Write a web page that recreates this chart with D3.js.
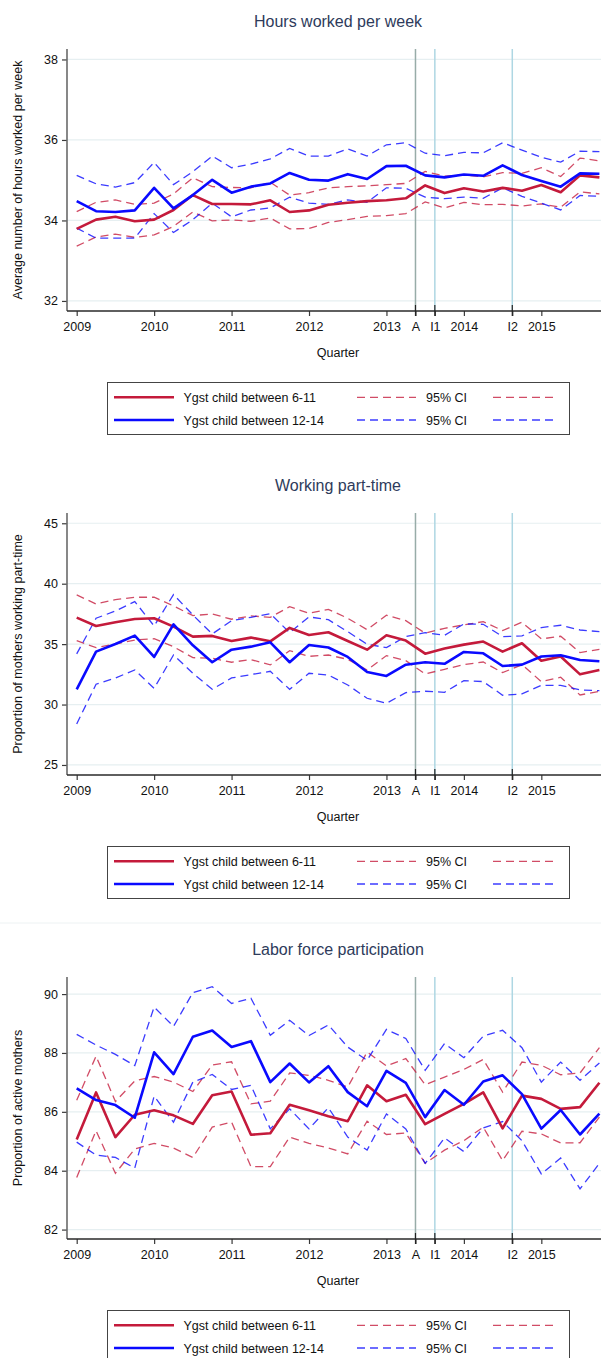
<!DOCTYPE html>
<html>
<head>
<meta charset="utf-8">
<script src="https://cdn.jsdelivr.net/npm/d3@7"></script>
<style>
  html, body { margin: 0; padding: 0; background: #fff; }
  svg { display: block; }
  text { font-family: "Liberation Sans", Arial, Helvetica, sans-serif; }
</style>
</head>
<body>
<svg id="chart" width="601" height="1358"></svg>
<script>
// Quarters 2009q1 .. 2015q4 (index 0..27)
const quarters = d3.range(28).map(i => `${2009 + Math.floor(i / 4)}q${(i % 4) + 1}`);

// x-axis ticks (positions in quarter index units)
const xTickLabels = ["2009", "2010", "2011", "2012", "2013", "A", "I1", "2014", "I2", "2015"];
const xTickPos    = [0, 4, 8, 12, 16, 17.5, 18.5, 20, 22.5, 24];

// Reference lines: announcement and the two implementation dates
const eventLabels = ["A", "I1", "I2"];
const eventPos    = [17.5, 18.5, 22.5];

// ---- Hours worked per week ----
const hoursY611   = [33.79,34.02,34.09,33.98,34.02,34.26,34.63,34.41,34.41,34.40,34.50,34.21,34.25,34.39,34.44,34.48,34.50,34.55,34.87,34.68,34.80,34.72,34.81,34.74,34.88,34.70,35.12,35.07];
const hoursY611Lo = [33.36,33.59,33.66,33.58,33.64,33.85,34.21,33.99,34.01,33.98,34.06,33.79,33.80,33.95,34.02,34.10,34.12,34.17,34.46,34.31,34.45,34.39,34.40,34.36,34.41,34.33,34.71,34.66];
const hoursY611Hi = [34.22,34.45,34.51,34.40,34.43,34.66,35.06,34.84,34.82,34.81,34.95,34.63,34.69,34.81,34.84,34.86,34.89,34.92,35.22,35.10,35.13,35.08,35.19,35.17,35.31,35.09,35.55,35.48];
const hoursY1214   = [34.48,34.23,34.21,34.25,34.81,34.30,34.63,35.01,34.69,34.84,34.92,35.18,35.01,34.99,35.15,35.03,35.35,35.36,35.12,35.07,35.14,35.11,35.37,35.13,34.98,34.84,35.17,35.16];
const hoursY1214Lo = [33.81,33.56,33.56,33.56,34.17,33.70,34.02,34.43,34.09,34.26,34.31,34.58,34.43,34.40,34.51,34.45,34.81,34.80,34.58,34.54,34.58,34.55,34.81,34.60,34.43,34.26,34.62,34.60];
const hoursY1214Hi = [35.12,34.91,34.83,34.94,35.44,34.89,35.21,35.60,35.31,35.40,35.53,35.79,35.60,35.60,35.78,35.60,35.88,35.93,35.67,35.61,35.69,35.68,35.93,35.75,35.57,35.45,35.72,35.71];
const hoursTicks = [32, 34, 36, 38];
const hoursRange = [31.75, 38.26];

// ---- Working part-time ----
const ptY611   = [37.19,36.50,36.81,37.08,37.14,36.45,35.62,35.68,35.26,35.54,35.23,36.34,35.76,35.98,35.26,34.54,35.73,35.29,34.21,34.63,34.96,35.21,34.38,35.07,33.63,33.97,32.50,32.86];
const ptY611Lo = [35.29,34.71,35.01,35.34,35.45,34.79,33.88,33.83,33.50,33.72,33.28,34.46,33.99,34.10,33.74,32.86,34.05,33.63,32.53,32.92,33.30,33.52,32.64,33.30,31.90,32.26,30.79,31.10];
const ptY611Hi = [39.07,38.32,38.68,38.88,38.88,38.16,37.36,37.50,37.06,37.33,37.22,38.10,37.55,37.88,37.14,36.20,37.39,36.94,35.90,36.31,36.59,36.86,36.12,36.81,35.43,35.65,34.30,34.57];
const ptY1214   = [31.26,34.38,35.01,35.70,33.94,36.64,34.90,33.50,34.54,34.79,35.15,33.50,34.93,34.72,33.94,32.70,32.37,33.30,33.50,33.37,34.35,34.24,33.19,33.30,33.97,34.08,33.69,33.58];
const ptY1214Lo = [28.39,31.68,32.20,32.86,31.34,34.10,32.59,31.26,32.20,32.48,32.75,31.26,32.59,32.44,31.62,30.52,30.10,30.99,31.10,31.01,31.98,31.90,30.77,30.88,31.59,31.59,31.21,31.15];
const ptY1214Hi = [34.19,37.14,37.74,38.52,36.50,39.10,37.41,35.84,36.94,37.22,37.52,35.95,37.25,37.02,36.03,34.99,34.71,35.62,35.95,35.73,36.67,36.64,35.62,35.68,36.37,36.56,36.17,36.03];
const ptTicks = [25, 30, 35, 40, 45];
const ptRange = [24.17, 45.85];

// ---- Labor force participation ----
const lfpY611   = [85.06,86.66,85.14,85.90,86.05,85.88,85.59,86.56,86.69,85.22,85.27,86.24,86.05,85.85,85.68,86.90,86.36,86.58,85.58,85.93,86.27,86.66,85.44,86.55,86.44,86.10,86.16,86.99];
const lfpY611Lo = [83.77,85.36,83.91,84.74,84.93,84.77,84.45,85.48,85.65,84.14,84.14,85.14,84.93,84.77,84.57,85.68,85.23,85.28,84.25,84.70,85.02,85.48,84.34,85.34,85.25,84.94,84.95,85.82];
const lfpY611Hi = [86.39,87.89,86.35,87.05,87.20,87.01,86.69,87.59,87.70,86.27,86.36,87.32,87.24,87.07,86.84,88.03,87.56,87.81,86.92,87.18,87.44,87.78,86.67,87.69,87.58,87.26,87.32,88.18];
const lfpY1214   = [86.80,86.40,86.23,85.80,88.02,87.28,88.55,88.76,88.20,88.40,87.01,87.64,87.00,87.55,86.67,86.19,87.39,86.98,85.82,86.74,86.24,87.03,87.24,86.60,85.43,86.06,85.23,85.94];
const lfpY1214Lo = [84.97,84.53,84.45,84.09,86.53,85.65,87.01,87.27,86.76,86.90,85.42,86.10,85.42,86.14,85.14,84.70,85.93,85.42,84.25,85.11,84.65,85.45,85.67,85.02,83.89,84.43,83.38,84.25];
const lfpY1214Hi = [88.63,88.27,87.95,87.57,89.56,88.90,90.05,90.25,89.68,89.86,88.60,89.11,88.59,88.95,88.20,87.75,88.80,88.49,87.41,88.32,87.84,88.57,88.77,88.18,87.01,87.69,87.07,87.66];
const lfpTicks = [82, 84, 86, 88, 90];
const lfpRange = [81.68, 90.58];

// Series names and legend text
const seriesNames = ["Ygst child between 6-11", "Ygst child between 12-14"];
const ciLabel = "95% CI";

// Panel definitions built from the arrays above
const panels = [
  { title: "Hours worked per week", yTitle: "Average number of hours worked per week",
    ticks: hoursTicks, range: hoursRange,
    groups: [[hoursY611, hoursY611Lo, hoursY611Hi], [hoursY1214, hoursY1214Lo, hoursY1214Hi]] },
  { title: "Working part-time", yTitle: "Proportion of mothers working part-time",
    ticks: ptTicks, range: ptRange,
    groups: [[ptY611, ptY611Lo, ptY611Hi], [ptY1214, ptY1214Lo, ptY1214Hi]] },
  { title: "Labor force participation", yTitle: "Proportion of active mothers",
    ticks: lfpTicks, range: lfpRange,
    groups: [[lfpY611, lfpY611Lo, lfpY611Hi], [lfpY1214, lfpY1214Lo, lfpY1214Hi]] }
];

// Styling
const colors = ["#c41a3b", "#0a0aff"];
const ciOpacity = [0.78, 0.8];
const titleColor = "#2e3b5b";
const gridColor = "#e6eff1";
const eventColors = ["#98aca8", "#aed7e3", "#aed7e3"];
const axisColor = "#3a3a3a";
const dash = "8,5";

const svg = d3.select("#chart");
const W = 601;
const panelH = 464;
const plotLeft = 67, plotTop = 49, plotBottom = 311;

const x = d3.scaleLinear().domain([0, 27]).range([76.7, 599.4]);

panels.forEach((p, k) => {
  const g = svg.append("g").attr("transform", `translate(0,${k * panelH})`);
  const y = d3.scaleLinear().domain(p.range).range([plotBottom, plotTop]);

  // Title
  g.append("text")
    .attr("x", 338).attr("y", 27)
    .attr("text-anchor", "middle")
    .attr("font-size", 16)
    .attr("fill", titleColor)
    .text(p.title);

  // Horizontal grid lines
  g.append("g").selectAll("line").data(p.ticks).join("line")
    .attr("x1", plotLeft).attr("x2", W)
    .attr("y1", d => y(d)).attr("y2", d => y(d))
    .attr("stroke", gridColor).attr("stroke-width", 1.2);

  // Reference lines
  g.append("g").selectAll("line").data(eventPos).join("line")
    .attr("x1", d => x(d)).attr("x2", d => x(d))
    .attr("y1", plotTop).attr("y2", plotBottom)
    .attr("stroke", (d, i) => eventColors[i]).attr("stroke-width", 1.5);

  // Data lines
  const line = d3.line().x((d, i) => x(i)).y(d => y(d));
  const clipId = `clip${k}`;
  g.append("clipPath").attr("id", clipId).append("rect")
    .attr("x", plotLeft).attr("y", plotTop).attr("width", W - plotLeft).attr("height", plotBottom - plotTop);
  const dataG = g.append("g").attr("clip-path", `url(#${clipId})`);

  p.groups.forEach((grp, s) => {
    [grp[1], grp[2]].forEach(ci => {
      dataG.append("path").datum(ci)
        .attr("d", line)
        .attr("fill", "none")
        .attr("stroke", colors[s])
        .attr("stroke-opacity", ciOpacity[s])
        .attr("stroke-width", 1.3)
        .attr("stroke-dasharray", dash);
    });
  });
  p.groups.forEach((grp, s) => {
    dataG.append("path").datum(grp[0])
      .attr("d", line)
      .attr("fill", "none")
      .attr("stroke", colors[s])
      .attr("stroke-width", 2.6)
      .attr("stroke-linejoin", "round");
  });

  // Y axis
  const yAxis = d3.axisLeft(y).tickValues(p.ticks).tickSize(5).tickPadding(4).tickFormat(d3.format("d"));
  const ya = g.append("g").attr("transform", `translate(${plotLeft},0)`).call(yAxis);
  ya.select(".domain").remove();
  ya.selectAll(".tick line").attr("stroke", axisColor).attr("stroke-width", 1.2);
  ya.selectAll(".tick text").attr("font-size", 12.5).attr("fill", "#111")
    .attr("font-family", "'Liberation Sans', Arial, sans-serif");
  g.append("line").attr("x1", plotLeft).attr("x2", plotLeft)
    .attr("y1", plotTop).attr("y2", plotBottom)
    .attr("stroke", "#6a6a6a").attr("stroke-width", 1.6);

  // X axis
  const xAxis = d3.axisBottom(x).tickValues(xTickPos).tickSize(5).tickPadding(6)
    .tickFormat((d, i) => xTickLabels[i]);
  const xa = g.append("g").attr("transform", `translate(0,${plotBottom})`).call(xAxis);
  xa.select(".domain").remove();
  xa.selectAll(".tick line").attr("stroke", axisColor).attr("stroke-width", 1.2);
  xa.selectAll(".tick text").attr("font-size", 12.5).attr("fill", "#111")
    .attr("font-family", "'Liberation Sans', Arial, sans-serif");
  g.append("line").attr("x1", plotLeft).attr("x2", W)
    .attr("y1", plotBottom).attr("y2", plotBottom)
    .attr("stroke", "#2a2a2a").attr("stroke-width", 1.4);
  // Reference-line ticks cross the axis
  g.append("g").selectAll("line").data(eventPos).join("line")
    .attr("x1", d => x(d)).attr("x2", d => x(d))
    .attr("y1", plotBottom - 6).attr("y2", plotBottom + 5)
    .attr("stroke", "#222").attr("stroke-width", 1.2);

  // Axis titles
  g.append("text")
    .attr("transform", `translate(22,${(plotTop + plotBottom) / 2}) rotate(-90)`)
    .attr("text-anchor", "middle")
    .attr("font-size", 12.5).attr("fill", "#111")
    .text(p.yTitle);
  g.append("text")
    .attr("x", 338).attr("y", 357)
    .attr("text-anchor", "middle")
    .attr("font-size", 12.5).attr("fill", "#111")
    .text("Quarter");

  // Legend
  const lg = g.append("g");
  lg.append("rect")
    .attr("x", 107.5).attr("y", 382.5).attr("width", 462).attr("height", 52)
    .attr("fill", "#fff").attr("stroke", "#444").attr("stroke-width", 1);
  const rowY = [397.3, 420];
  seriesNames.forEach((name, s) => {
    lg.append("line").attr("x1", 114).attr("x2", 174).attr("y1", rowY[s]).attr("y2", rowY[s])
      .attr("stroke", colors[s]).attr("stroke-width", 2.6);
    lg.append("text").attr("x", 183.5).attr("y", rowY[s] + 4.5)
      .attr("font-size", 12.5).attr("fill", "#111").text(name);
    [[357, 416], [493, 553]].forEach(([a, b]) => {
      lg.append("line").attr("x1", a).attr("x2", b).attr("y1", rowY[s]).attr("y2", rowY[s])
        .attr("stroke", colors[s]).attr("stroke-opacity", ciOpacity[s])
        .attr("stroke-width", 1.3).attr("stroke-dasharray", dash);
    });
    lg.append("text").attr("x", 426).attr("y", rowY[s] + 4.5)
      .attr("font-size", 12.5).attr("fill", "#111").text(ciLabel);
  });
});

// Faint divider above the last panel
svg.append("line").attr("x1", 0).attr("x2", W).attr("y1", 923).attr("y2", 923)
  .attr("stroke", "#edf2f3").attr("stroke-width", 1);
</script>
</body>
</html>
